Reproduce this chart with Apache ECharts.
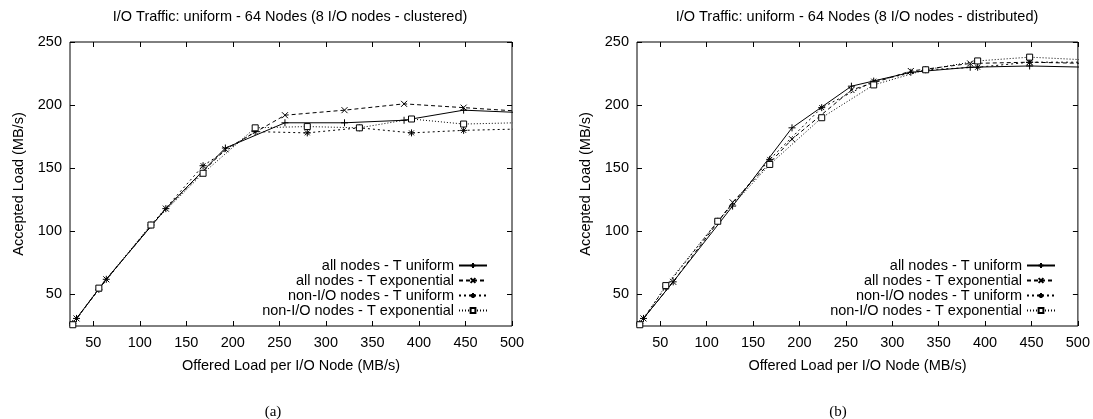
<!DOCTYPE html>
<html><head><meta charset="utf-8">
<script src="https://cdn.jsdelivr.net/npm/echarts@6/dist/echarts.min.js"></script>
<style>html,body{margin:0;padding:0;background:#fff}#c{width:1093px;height:419px}</style>
</head><body><div id="c"></div>
<script>
// ---- data ----
const seriesNames = ['all nodes - T uniform','all nodes - T exponential','non-I/O nodes - T uniform','non-I/O nodes - T exponential'];
const xAll = [32, 64, 128, 192, 256, 320, 384, 448, 512];
const xNonIO = [28, 56, 112, 168, 224, 280, 336, 392, 448, 504];
const xTicks = [50, 100, 150, 200, 250, 300, 350, 400, 450, 500];
const yTicks = [50, 100, 150, 200, 250];
const titleA = 'I/O Traffic: uniform - 64 Nodes (8 I/O nodes - clustered)';
const titleB = 'I/O Traffic: uniform - 64 Nodes (8 I/O nodes - distributed)';
const captionA = '(a)';
const captionB = '(b)';
// clustered (a)
const clAllUni   = [31, 62, 118, 166, 186, 186, 188, 196, 194];
const clAllExp   = [31, 62, 118, 165, 192, 196, 201, 198, 195];
const clNonUni   = [27, 54, 105, 152, 179, 178, 182, 178, 180, 181];
const clNonExp   = [26, 55, 105, 146, 182, 183, 182, 189, 185, 186];
// distributed (b)
const diAllUni   = [31, 60, 120, 182, 215, 226, 230, 231, 230];
const diAllExp   = [31, 60, 123, 173, 212, 227, 233, 234, 233];
const diNonUni   = [27, 56, 108, 157, 198, 219, 228, 230, 234, 234];
const diNonExp   = [26, 57, 108, 153, 190, 216, 228, 235, 238, 236];

const pair = (xs, ys) => xs.map((x, i) => [x, ys[i]]);
const FONT = 'Liberation Sans';
const FS = 14.5;
const symPlus = 'path://M0,5H10M5,0V10';
const symCross = 'path://M0,0L10,10M10,0L0,10';
const symStar = 'path://M0,5H10M5,0V10M1.5,1.5L8.5,8.5M8.5,1.5L1.5,8.5';
const symSquare = 'path://M0,0H10V10H0Z';
const styles = [
  {symbol: symPlus, type: 'solid', fill: '#000', size: 7},
  {symbol: symCross, type: [4, 3], fill: '#000', size: 6},
  {symbol: symStar, type: [2, 3], fill: '#000', size: 7},
  {symbol: symSquare, type: [1, 2], fill: '#fff', size: 6}
];
function mkSeries(idx, xi, data) {
  const s = styles[idx];
  return {
    name: seriesNames[idx], type: 'line', xAxisIndex: xi, yAxisIndex: xi,
    data: data, symbol: s.symbol, symbolSize: s.size, showAllSymbol: true,
    clip: true, animation: false,
    lineStyle: {color: '#000', width: 1, type: s.type},
    itemStyle: {color: s.fill, borderColor: '#000', borderWidth: 1},
    emphasis: {disabled: true}
  };
}
function xAx(gi, top) {
  return {
    type: 'value', gridIndex: gi, min: 25, max: 500, position: top ? 'top' : 'bottom',
    splitLine: {show: false}, axisLine: {show: false},
    axisTick: {show: true, inside: true, length: 5, lineStyle: {color: '#000'}, customValues: xTicks},
    axisLabel: {show: !top, customValues: xTicks, color: '#000', fontFamily: FONT, fontSize: FS, margin: 9},
    name: top ? '' : 'Offered Load per I/O Node (MB/s)', nameLocation: 'middle', nameGap: 32,
    nameTextStyle: {color: '#000', fontFamily: FONT, fontSize: FS}
  };
}
function yAx(gi, right) {
  return {
    type: 'value', gridIndex: gi, min: 25, max: 250, position: right ? 'right' : 'left',
    splitLine: {show: false}, axisLine: {show: false},
    axisTick: {show: true, inside: true, length: 5, lineStyle: {color: '#000'}, customValues: yTicks},
    axisLabel: {show: !right, customValues: yTicks, color: '#000', fontFamily: FONT, fontSize: FS, margin: 8},
    name: right ? '' : 'Accepted Load (MB/s)', nameLocation: 'middle', nameGap: 44, nameRotate: 90,
    nameTextStyle: {color: '#000', fontFamily: FONT, fontSize: FS}
  };
}
function legend(right) {
  return {
    orient: 'vertical', align: 'right', right: right, bottom: 96, itemGap: 0,
    itemWidth: 28, itemHeight: 6, selectedMode: false, data: seriesNames,
    textStyle: {color: '#000', fontFamily: FONT, fontSize: FS, lineHeight: 15}
  };
}
const option = {
  backgroundColor: '#fff', animation: false,
  title: [
    {text: titleA, left: 285, top: 4, textAlign: 'center', textStyle: {fontFamily: FONT, fontSize: FS, fontWeight: 'normal', color: '#000'}},
    {text: titleB, left: 852, top: 4, textAlign: 'center', textStyle: {fontFamily: FONT, fontSize: FS, fontWeight: 'normal', color: '#000'}},
    {text: captionA, left: 268, top: 400, textAlign: 'center', textStyle: {fontFamily: 'Liberation Serif', fontSize: 15, fontWeight: 'normal', color: '#000'}},
    {text: captionB, left: 833, top: 400, textAlign: 'center', textStyle: {fontFamily: 'Liberation Serif', fontSize: 15, fontWeight: 'normal', color: '#000'}}
  ],
  grid: [
    {left: 70, right: 581, top: 42, bottom: 93, show: true, borderColor: '#000', borderWidth: 1, containLabel: false},
    {left: 637, right: 13, top: 42, bottom: 93, show: true, borderColor: '#000', borderWidth: 1, containLabel: false}
  ],
  xAxis: [xAx(0, false), xAx(0, true), xAx(1, false), xAx(1, true)],
  yAxis: [yAx(0, false), yAx(0, true), yAx(1, false), yAx(1, true)],
  legend: [legend(600), legend(32)],
  series: [
    mkSeries(0, 0, pair(xAll, clAllUni)),
    mkSeries(1, 0, pair(xAll, clAllExp)),
    mkSeries(2, 0, pair(xNonIO, clNonUni)),
    mkSeries(3, 0, pair(xNonIO, clNonExp)),
    mkSeries(0, 2, pair(xAll, diAllUni)),
    mkSeries(1, 2, pair(xAll, diAllExp)),
    mkSeries(2, 2, pair(xNonIO, diNonUni)),
    mkSeries(3, 2, pair(xNonIO, diNonExp))
  ]
};
const chart = echarts.init(document.getElementById('c'));
chart.setOption(option);
</script></body></html>
